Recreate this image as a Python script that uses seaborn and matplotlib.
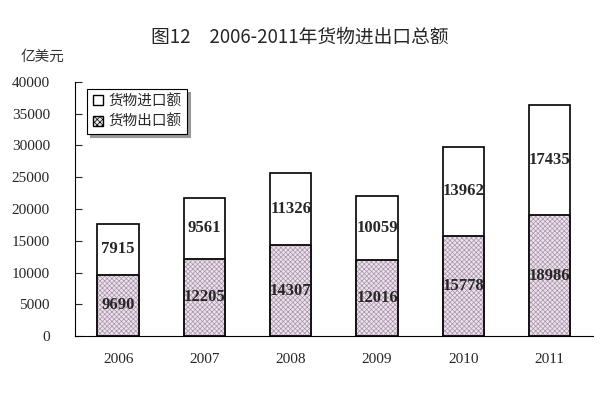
import matplotlib
matplotlib.use("Agg")
import matplotlib.pyplot as plt
import seaborn as sns
import pandas as pd
from matplotlib.patches import Patch

years = ["2006", "2007", "2008", "2009", "2010", "2011"]
exports = [9690, 12205, 14307, 12016, 15778, 18986]
imports = [7915, 9561, 11326, 10059, 13962, 17435]
yticks = [0, 5000, 10000, 15000, 20000, 25000, 30000, 35000, 40000]

df = pd.DataFrame({"year": years, "export": exports, "import": imports})
df["total"] = df["export"] + df["import"]

sns.set_style("white")
plt.rcParams["hatch.linewidth"] = 0.5
cjk = ["Noto Sans CJK SC", "DejaVu Sans"]
serif = "Liberation Serif"

fig = plt.figure(figsize=(6, 3.94), dpi=100)
ax = fig.add_axes([0.125, 0.147, 0.863, 0.645])

sns.barplot(data=df, x="year", y="total", color="white", edgecolor="black",
            linewidth=1.2, width=0.48, ax=ax, saturation=1)
sns.barplot(data=df, x="year", y="export", color="#ece2ec", edgecolor="black",
            linewidth=1.2, width=0.48, ax=ax, saturation=1)
for p in ax.patches[len(years):]:
    p.set_hatch("xxxxxxx")
    p.set_edgecolor("#a894a8")
# redraw black outlines for export bars
for i, v in enumerate(exports):
    ax.bar(i, v, width=0.48, fill=False, edgecolor="black", linewidth=1.2)

for i in range(len(years)):
    ax.text(i, exports[i] / 2, str(exports[i]), ha="center", va="center",
            fontsize=12, fontweight="bold", family=serif)
    ax.text(i, exports[i] + imports[i] / 2, str(imports[i]), ha="center",
            va="center", fontsize=12, fontweight="bold", family=serif)

ax.set_ylim(0, 40000)
ax.set_xlim(-0.5, 5.5)
ax.set_yticks(yticks)
ax.set_yticklabels([str(t) for t in yticks], family=serif, fontsize=11)
ax.set_xticks(range(len(years)))
ax.set_xticklabels(years, family=serif, fontsize=11)
ax.set_xticks([i + 0.5 for i in range(-1, 6)], minor=True)
ax.tick_params(axis="x", which="major", length=0, pad=12)
ax.tick_params(axis="x", which="minor", direction="in", length=4, width=0.8)
ax.tick_params(axis="y", direction="in", length=5, width=0.8, left=True, pad=18)
ax.set_xlabel("")
ax.set_ylabel("")
for s in ["top", "right"]:
    ax.spines[s].set_visible(False)
for s in ["left", "bottom"]:
    ax.spines[s].set_color("black")
    ax.spines[s].set_linewidth(0.8)

handles = [Patch(facecolor="white", edgecolor="black", label="货物进口额"),
           Patch(facecolor="#ece2ec", edgecolor="black", hatch="xxxxxx",
                 label="货物出口额")]
leg = ax.legend(handles=handles, loc="upper left", bbox_to_anchor=(0.01, 1.0),
                prop={"family": cjk, "size": 10.5}, frameon=True, fancybox=False,
                shadow={"color": "#999999", "alpha": 1}, handlelength=0.7,
                handleheight=0.7, handletextpad=0.4, borderpad=0.35,
                labelspacing=0.45)
leg.get_frame().set_edgecolor("black")
leg.get_frame().set_linewidth(0.8)

fig.text(0.5, 0.905, "图12　2006-2011年货物进出口总额", ha="center", va="center",
         fontsize=13.5, family=cjk, fontweight="medium")
fig.text(0.035, 0.855, "亿美元", ha="left", va="center", fontsize=10.5,
         family=cjk, color="#333333")

fig.savefig("out.png", dpi=100)
